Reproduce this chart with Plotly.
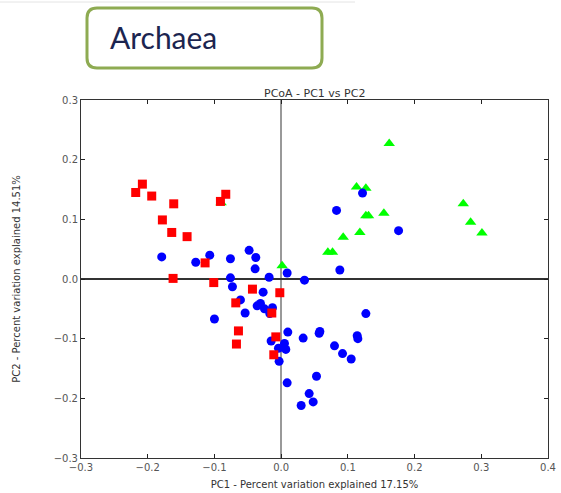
import plotly.graph_objects as go

# PCoA coordinates per group (PC1, PC2)
pc1_red = [-0.208, -0.218, -0.194, -0.161, -0.083, -0.091, -0.178, -0.164, -0.141, -0.114,
           -0.162, -0.101, -0.043, -0.002, -0.068, -0.014, -0.064, -0.067, -0.008, -0.011]
pc2_red = [0.159, 0.145, 0.139, 0.126, 0.142, 0.130, 0.099, 0.078, 0.071, 0.027,
           0.001, -0.006, -0.017, -0.023, -0.040, -0.057, -0.087, -0.109, -0.097, -0.127]

pc1_blue = [-0.179, -0.128, -0.107, -0.076, -0.048, -0.038, -0.039, -0.076, -0.018, 0.009,
            0.035, -0.073, -0.027, -0.061, -0.031, -0.036, -0.025, -0.013, -0.017, -0.054,
            -0.100, 0.010, 0.033, 0.057, 0.058, -0.015, 0.005, 0.007, -0.004, -0.003,
            0.053, 0.009, 0.042, 0.048, 0.030, 0.088, 0.127, 0.115, 0.114, 0.080,
            0.092, 0.105, 0.122, 0.083, 0.176]
pc2_blue = [0.037, 0.028, 0.040, 0.034, 0.048, 0.036, 0.017, 0.002, 0.003, 0.010,
            -0.002, -0.013, -0.022, -0.035, -0.041, -0.045, -0.050, -0.048, -0.058, -0.057,
            -0.067, -0.089, -0.099, -0.091, -0.088, -0.104, -0.108, -0.118, -0.116, -0.138,
            -0.163, -0.174, -0.192, -0.206, -0.212, 0.015, -0.058, -0.100, -0.095, -0.112,
            -0.125, -0.134, 0.144, 0.115, 0.081]

pc1_green = [0.162, 0.113, 0.127, 0.273, 0.154, 0.127, 0.131, 0.284, 0.301, 0.118,
             0.093, 0.070, 0.077, 0.0015, -0.090]
pc2_green = [0.227, 0.154, 0.152, 0.126, 0.110, 0.106, 0.106, 0.095, 0.077, 0.078,
             0.070, 0.045, 0.045, 0.022, 0.128]

x_ticks = [-0.3, -0.2, -0.1, 0.0, 0.1, 0.2, 0.3, 0.4]
y_ticks = [-0.3, -0.2, -0.1, 0.0, 0.1, 0.2, 0.3]

fig = go.Figure()
fig.add_trace(go.Scatter(x=pc1_green, y=pc2_green, mode="markers",
                         marker=dict(symbol="triangle-up", size=10, color="#00ff00",
                                     line=dict(width=0))))
fig.add_trace(go.Scatter(x=pc1_blue, y=pc2_blue, mode="markers",
                         marker=dict(symbol="circle", size=9, color="#0000ff",
                                     line=dict(width=0))))
fig.add_trace(go.Scatter(x=pc1_red, y=pc2_red, mode="markers",
                         marker=dict(symbol="square", size=9, color="#ff0000",
                                     line=dict(width=0))))

W, H = 561, 493
L, R, T, B = 81, 13, 100, 35
pw, ph = W - L - R, H - T - B


def px(x):
    return (x - L) / pw


def py(y):
    return (H - B - y) / ph


# rounded box around the heading
x0, x1, y0, y1, r = px(87), px(322), py(68), py(8), 10
rx, ry = r / pw, r / ph
box_path = (f"M {x0+rx},{y1} L {x1-rx},{y1} Q {x1},{y1} {x1},{y1-ry} "
            f"L {x1},{y0+ry} Q {x1},{y0} {x1-rx},{y0} L {x0+rx},{y0} "
            f"Q {x0},{y0} {x0},{y0+ry} L {x0},{y1-ry} Q {x0},{y1} {x0+rx},{y1} Z")

axis_common = dict(showgrid=False, ticks="inside", ticklen=4, tickcolor="#222",
                   showline=True, linecolor="#333", linewidth=1, mirror="ticks",
                   tickformat=".1f", tickfont=dict(family="DejaVu Sans", size=10, color="#555"),
                   zeroline=True, automargin=False)

fig.update_layout(
    width=W, height=H,
    margin=dict(l=L, r=R, t=T, b=B),
    paper_bgcolor="white", plot_bgcolor="white",
    showlegend=False,
    xaxis=dict(range=[-0.3, 0.4], tickvals=x_ticks, zerolinecolor="#999", zerolinewidth=2,
               title=dict(text="PC1 - Percent variation explained 17.15%", standoff=8,
                          font=dict(family="DejaVu Sans", size=10, color="#333")),
               **axis_common),
    yaxis=dict(range=[-0.3, 0.3], tickvals=y_ticks, zerolinecolor="#333", zerolinewidth=1.5,
               title=dict(text="PC2 - Percent variation explained 14.51%", standoff=31,
                          font=dict(family="DejaVu Sans", size=10, color="#333")),
               **axis_common),
    shapes=[
        dict(type="path", path=box_path, xref="paper", yref="paper",
             line=dict(color="#8eab52", width=3), fillcolor="white", layer="above"),
        dict(type="line", xref="paper", yref="paper", x0=px(0), x1=px(355), y0=py(2), y1=py(2),
             line=dict(color="#e4e4e4", width=1)),
    ],
    annotations=[
        dict(text="Archaea", xref="paper", yref="paper", x=px(108), y=py(37),
             xanchor="left", yanchor="middle", showarrow=False,
             font=dict(family="Lato", size=30, color="#1c2550")),
        dict(text="PCoA - PC1 vs PC2", xref="paper", yref="paper", x=0.5, y=py(93),
             xanchor="center", yanchor="middle", showarrow=False,
             font=dict(family="DejaVu Sans", size=11, color="#333")),
    ],
)

fig.write_html("out.html")
